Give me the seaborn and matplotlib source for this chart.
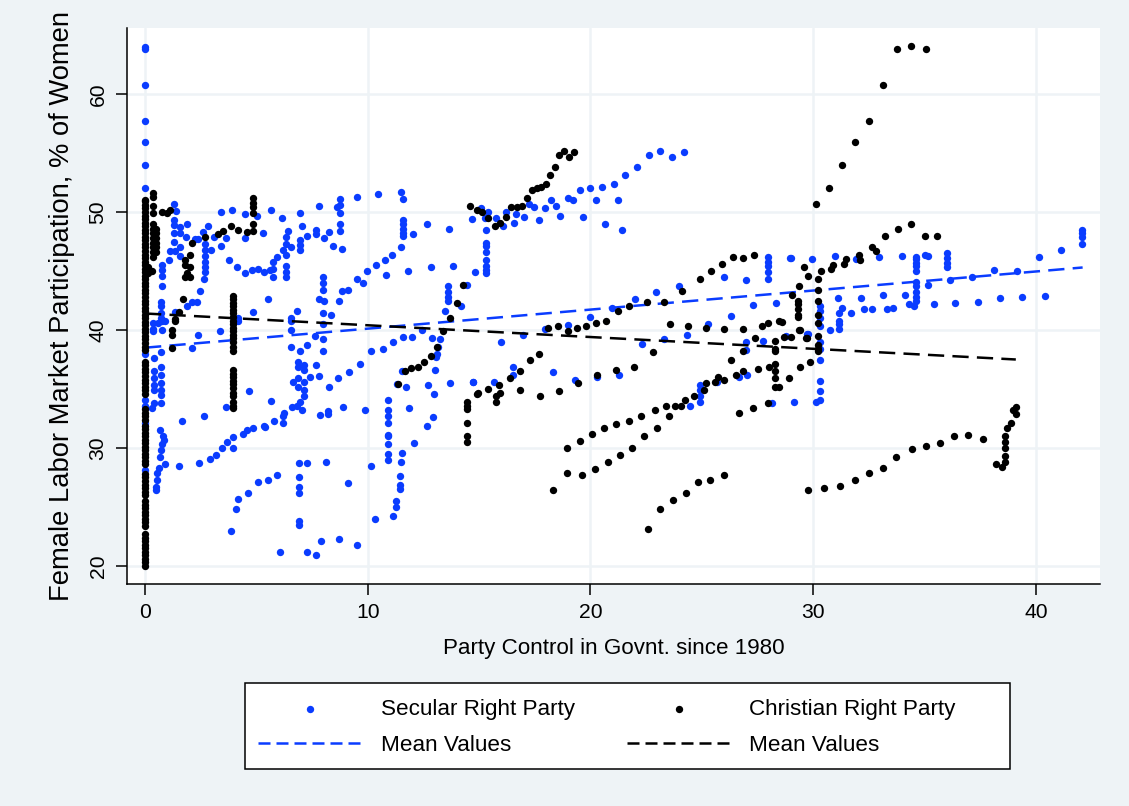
import matplotlib
matplotlib.use('Agg')
import matplotlib.pyplot as plt
from matplotlib.patches import Rectangle
import seaborn as sns
import pandas as pd

# Values as (party control, participation)
secular_zero = [(0, 64.0), (0, 63.8), (0, 60.8), (0, 57.7), (0, 55.9), (0, 54.0), (0, 52.0), (0, 38.0), (0, 34.1),
                (0, 33.6), (0, 32.1), (0, 28.1)]

secular_left = [(1.32, 50.7), (1.39, 50.1), (1.32, 49.3), (1.32, 48.9), (1.32, 48.2), (1.57, 48.7), (1.57, 48.2),
                (1.83, 47.9), (1.32, 47.5), (1.9, 49.0), (2.24, 47.7), (2.39, 47.7), (2.62, 48.3), (2.84, 48.8),
                (3.1, 47.9), (3.4, 50.0), (3.92, 50.2), (4.47, 49.8), (5.03, 49.7), (5.64, 50.2), (6.13, 49.5),
                (6.96, 49.9), (7.8, 50.5), (8.6, 50.4), (8.75, 51.1), (8.75, 50.6), (8.75, 49.9), (8.75, 49.0),
                (8.75, 48.4), (9.5, 51.3), (10.47, 51.5), (11.49, 51.7), (11.6, 51.1), (11.6, 49.3), (11.6, 49.0),
                (11.6, 48.6), (11.6, 48.2), (11.6, 48.0), (12.04, 48.1), (12.66, 49.0), (13.64, 48.6), (14.66, 49.4),
                (3.64, 47.8), (4.47, 47.8), (5.31, 48.2), (6.43, 48.4), (6.31, 47.9), (6.31, 47.3), (7.26, 48.0),
                (7.66, 48.5), (7.66, 48.1), (8.27, 48.3), (8.05, 47.8), (7.03, 48.8), (6.96, 47.6), (6.96, 47.2),
                (6.96, 46.8), (6.57, 47.0), (8.45, 47.1), (8.83, 46.9), (1.12, 46.7), (1.35, 46.7), (1.57, 47.0),
                (1.57, 46.3), (2.69, 47.3), (2.69, 46.8), (2.69, 46.3), (2.69, 45.8), (2.69, 45.3), (2.69, 44.9),
                (2.95, 46.8), (3.43, 47.1), (1.08, 45.9), (0.75, 45.5), (0.75, 45.1), (0.75, 44.6), (0.75, 43.7),
                (2.66, 44.3), (2.47, 43.3), (3.77, 45.9), (4.13, 45.3), (4.47, 44.8), (4.79, 45.1), (5.06, 45.2),
                (5.33, 44.9), (5.61, 45.1), (5.73, 45.8), (5.73, 45.2), (5.73, 44.5), (5.91, 46.2), (6.2, 46.8),
                (6.31, 46.4), (6.31, 45.4), (6.31, 44.9), (6.31, 44.5), (8.0, 44.5), (8.0, 44.0), (8.0, 43.4),
                (7.82, 42.6), (8.03, 42.5), (8.72, 42.5), (8.83, 43.3), (9.11, 43.4), (9.5, 44.3), (9.8, 44.0),
                (9.95, 45.0), (10.38, 45.5), (10.82, 44.7), (10.77, 45.9), (11.1, 46.4), (11.49, 47.0), (11.8, 45.0),
                (12.82, 45.3), (13.84, 45.4), (14.8, 44.9), (13.6, 43.7), (13.6, 43.2), (13.6, 42.8), (13.6, 42.5),
                (14.44, 43.8), (14.2, 42.0), (13.47, 41.6), (0.73, 42.4), (0.73, 42.0), (0.73, 41.4), (0.73, 41.0),
                (1.87, 42.0), (2.1, 42.4), (2.32, 42.4), (1.35, 41.5), (5.54, 42.6), (4.83, 41.5), (6.84, 41.6),
                (8.0, 41.4), (8.33, 41.3), (6.55, 41.0), (4.19, 41.0)]

secular_lower = [(0.37, 40.6), (0.37, 40.1), (0.37, 39.9), (0.6, 40.6), (0.75, 40.8), (0.75, 40.0), (0.9, 40.8),
                 (2.36, 39.6), (3.37, 39.9), (2.09, 38.5), (4.19, 40.8), (6.55, 40.8), (6.55, 40.0), (8.0, 40.5),
                 (7.63, 39.5), (8.0, 39.2), (8.0, 38.2), (6.55, 38.6), (6.96, 38.2), (7.29, 38.7), (6.85, 37.3),
                 (6.85, 36.9), (7.14, 37.0), (7.14, 36.6), (7.14, 35.6), (7.41, 36.0), (7.66, 37.0), (7.81, 36.1),
                 (6.85, 35.9), (6.63, 35.6), (6.85, 35.2), (7.14, 34.9), (7.14, 34.4), (8.24, 35.2), (8.68, 35.9),
                 (9.16, 36.4), (9.65, 37.1), (10.14, 38.2), (10.67, 38.4), (11.15, 39.0), (11.6, 39.4), (12.0, 39.4),
                 (12.45, 40.0), (12.87, 39.3), (13.24, 39.2), (13.17, 38.6), (13.09, 38.0), (13.06, 37.7),
                 (13.03, 36.6), (11.52, 36.5), (11.3, 35.4), (11.71, 35.2), (12.69, 35.3), (12.97, 34.6), (13.7, 35.5),
                 (14.72, 35.6), (0.42, 37.6), (0.42, 36.5), (0.42, 35.9), (0.42, 35.3), (0.42, 34.9), (0.73, 38.1),
                 (0.73, 36.9), (0.73, 36.2), (0.73, 35.5), (0.73, 34.9), (0.73, 34.5), (0.73, 33.8), (0.42, 33.8),
                 (0.3, 33.4), (1.65, 32.3), (2.66, 32.7), (3.64, 33.5), (4.67, 34.8), (5.67, 34.0), (6.58, 33.5),
                 (6.81, 33.6), (7.03, 33.2), (6.96, 33.9), (6.25, 33.0), (6.18, 32.7), (6.21, 32.1), (5.79, 32.3),
                 (5.34, 31.9), (5.39, 31.8), (4.86, 31.7), (4.56, 31.5), (4.38, 31.2), (3.96, 30.9), (3.7, 30.5),
                 (3.44, 30.0), (3.96, 30.0), (3.19, 29.4), (2.92, 29.1), (2.41, 28.7), (1.53, 28.5), (0.91, 28.6),
                 (7.87, 32.8), (8.23, 33.1), (8.23, 32.9), (8.9, 33.5), (9.87, 33.2), (10.92, 34.1), (10.92, 33.2),
                 (10.92, 32.7), (10.92, 32.1), (11.86, 33.4), (12.94, 32.6), (12.64, 31.9), (10.92, 31.1),
                 (10.92, 31.0), (10.92, 30.3), (10.92, 29.5), (10.92, 29.0), (12.07, 30.4), (11.52, 29.6),
                 (11.48, 28.8), (11.45, 27.6), (11.45, 26.9), (11.45, 26.5), (11.27, 25.5), (11.27, 25.0),
                 (11.15, 24.2), (10.32, 24.0), (0.67, 31.5), (0.82, 31.0), (0.85, 30.7), (0.75, 30.3), (0.7, 29.8),
                 (0.67, 29.2), (0.64, 28.3), (0.55, 27.9), (0.55, 27.3), (0.49, 26.7), (0.49, 26.4), (6.9, 28.7),
                 (7.29, 28.7), (8.12, 28.8), (10.13, 28.5), (5.91, 27.7), (5.51, 27.3), (5.09, 27.1), (4.62, 26.2),
                 (4.19, 25.7), (4.1, 24.8), (3.86, 23.0), (6.9, 27.5), (6.9, 26.7), (6.9, 26.2), (9.13, 27.0),
                 (6.9, 23.8), (6.9, 23.5), (7.9, 22.1), (8.71, 22.3), (9.53, 21.8), (6.06, 21.2), (7.29, 21.2),
                 (7.69, 20.9)]

secular_mid = [(15.29, 48.5), (15.29, 47.4), (15.29, 47.1), (15.29, 46.6), (15.29, 45.9), (15.29, 45.4), (15.29, 45.1),
               (15.29, 44.8), (15.26, 49.5), (15.41, 50.0), (15.1, 50.3), (15.75, 49.5), (16.08, 48.8), (16.23, 50.0),
               (16.65, 49.8), (16.55, 49.1), (17.03, 49.6), (17.24, 50.7), (17.48, 50.4), (17.67, 49.3), (17.97, 50.3),
               (18.21, 51.0), (18.46, 50.5), (18.64, 49.7), (18.97, 51.2), (19.23, 51.0), (19.51, 51.9), (19.66, 49.6),
               (19.99, 52.0), (20.23, 51.0), (20.51, 52.1), (20.66, 49.0), (21.04, 52.4), (21.23, 51.0), (21.41, 48.5),
               (21.56, 53.1), (22.09, 53.8), (22.64, 54.8), (23.14, 55.2), (23.67, 54.7), (24.22, 55.1), (15.98, 39.0),
               (16.98, 39.6), (17.95, 40.1), (18.97, 40.4), (19.97, 41.1), (20.99, 41.9), (21.99, 42.6), (22.96, 43.2),
               (23.98, 43.7), (25.99, 44.5), (26.98, 44.2), (27.98, 46.2), (27.98, 45.8), (27.98, 45.4), (27.98, 44.9),
               (27.98, 44.3), (28.98, 46.1), (27.3, 42.1), (28.31, 42.3), (26.32, 41.2), (25.3, 40.5), (24.33, 39.6),
               (23.31, 39.2), (22.32, 38.8), (27.75, 39.1), (27.0, 39.0), (27.0, 38.3), (28.8, 39.5), (29.73, 39.7),
               (14.72, 35.6), (15.68, 35.6), (16.53, 36.9), (16.53, 36.2), (18.31, 36.4), (19.31, 35.8), (20.29, 36.0),
               (21.3, 36.2), (24.9, 35.3), (24.9, 34.9), (24.9, 34.4), (24.9, 33.9), (24.46, 33.6), (25.66, 35.6),
               (26.65, 36.0), (27.02, 36.2), (28.16, 33.8), (29.13, 33.9)]

secular_right = [(29.0, 46.1), (29.95, 46.0), (30.97, 46.3), (31.91, 46.0), (32.96, 46.2), (33.98, 46.3), (34.6, 46.2),
                 (34.6, 46.0), (34.6, 45.7), (34.6, 45.4), (34.6, 45.0), (35.03, 46.4), (35.14, 46.3), (36.0, 46.5),
                 (36.0, 46.1), (36.0, 45.7), (36.0, 45.3), (40.13, 46.2), (41.13, 46.8), (42.06, 48.5), (42.06, 48.2),
                 (42.06, 47.9), (42.06, 47.3), (38.12, 45.1), (39.14, 45.0), (37.15, 44.5), (36.13, 44.2), (35.16, 43.8),
                 (34.6, 44.1), (34.6, 43.7), (34.6, 43.2), (34.6, 42.8), (34.6, 42.5), (40.4, 42.9), (39.39, 42.8),
                 (38.39, 42.7), (37.39, 42.4), (36.39, 42.3), (35.41, 42.2), (34.52, 42.0), (34.29, 42.2), (34.14, 43.0),
                 (33.12, 43.0), (32.14, 42.7), (31.13, 42.7), (33.59, 41.9), (33.31, 41.8), (32.66, 41.8), (32.3, 41.8),
                 (31.7, 41.4), (31.31, 41.9), (31.17, 41.4), (31.17, 40.8), (31.17, 40.5), (31.17, 40.1), (30.76, 40.0),
                 (30.31, 42.0), (30.31, 41.6), (30.31, 41.0), (30.31, 40.3), (29.76, 39.7), (30.31, 39.0), (30.31, 38.4),
                 (30.31, 37.5), (30.31, 35.7), (30.31, 34.8), (30.31, 34.1), (30.15, 33.9)]

christian_zero_y = [20.0, 20.3, 20.6, 20.9, 21.2, 21.5, 21.8, 22.1, 22.4, 22.7, 23.4, 23.7, 24.0, 24.3, 24.6, 24.9,
                    25.2, 25.5, 26.0, 26.3, 26.6, 26.9, 27.2, 27.5, 27.8, 28.6, 28.9, 29.2, 29.5, 29.8, 30.1, 30.4,
                    30.7, 31.0, 31.3, 31.6, 31.9, 32.4, 32.7, 33.0, 33.3, 34.6, 34.9, 35.2, 35.5, 35.8, 36.1, 36.4,
                    36.7, 37.0, 37.3, 38.3, 38.6, 38.9, 39.2, 39.5, 39.8, 40.1, 40.4, 40.7, 41.0, 41.3, 41.6, 41.9,
                    42.2, 42.5, 42.8, 43.1, 43.4, 43.7, 44.0, 44.3, 44.6, 44.9, 45.2, 45.5, 45.8, 46.1, 46.4, 46.7,
                    47.0, 47.3, 47.6, 47.9, 48.2, 48.5, 48.8, 49.1, 49.4, 49.7, 50.0, 50.3, 50.6, 50.9, 51.0]

christian_left = [(0.37, 51.6), (0.37, 51.3), (0.37, 50.5), (0.37, 49.9), (0.37, 49.0), (0.37, 48.6), (0.37, 48.2),
                  (0.37, 47.8), (0.37, 47.4), (0.37, 47.0), (0.37, 46.6), (0.37, 46.2), (0.5, 48.6), (0.5, 48.2),
                  (0.5, 47.8), (0.5, 47.4), (0.5, 47.0), (0.5, 46.6), (0.75, 50.0), (0.97, 49.9), (1.12, 50.2),
                  (0.3, 45.0), (0.15, 45.3), (0.15, 44.8), (4.86, 51.2), (4.86, 50.8), (4.86, 50.4), (4.86, 49.9),
                  (4.86, 49.0), (4.86, 48.4), (3.86, 48.8), (4.19, 48.5), (4.56, 48.3), (3.49, 48.4), (3.29, 48.1),
                  (2.69, 47.9), (2.11, 47.4), (2.0, 46.4), (1.8, 45.9), (1.8, 45.5), (2.02, 45.3), (1.8, 44.5),
                  (2.02, 44.5), (1.87, 44.8), (1.72, 42.6), (1.53, 41.5), (1.35, 40.9), (1.35, 40.8), (1.21, 40.0),
                  (1.21, 39.6), (1.21, 38.5)]

christian_four = [(3.93, 42.9), (3.93, 42.6), (3.93, 42.3), (3.93, 42.0), (3.93, 41.7), (3.93, 41.4), (3.93, 41.1),
                  (3.93, 40.8), (3.93, 40.5), (3.93, 40.2), (3.93, 39.9), (3.93, 39.6), (3.93, 39.3), (3.93, 39.0),
                  (3.93, 38.6), (3.93, 38.2), (3.93, 36.6), (3.93, 36.3), (3.93, 36.0), (3.93, 35.7), (3.93, 35.4),
                  (3.93, 35.1), (3.93, 34.7), (3.93, 34.4), (3.93, 33.9), (3.93, 33.6), (3.93, 33.4)]

christian_mid = [(14.29, 43.8), (13.99, 42.3), (13.69, 41.0), (13.39, 39.9), (13.09, 38.6), (12.82, 37.8), (12.52, 37.3),
                 (12.24, 36.9), (11.94, 36.8), (11.67, 36.5), (11.37, 35.4), (14.47, 33.9), (14.47, 33.6), (14.47, 33.3),
                 (14.47, 32.1), (14.47, 31.0), (14.47, 30.5), (14.92, 34.6), (14.59, 50.5), (14.89, 50.2), (15.14, 50.0),
                 (15.41, 49.5), (15.71, 48.8), (15.96, 49.1), (16.19, 49.6), (16.43, 50.4), (16.69, 50.4), (16.91, 50.5),
                 (17.13, 51.2), (17.36, 51.9), (17.58, 52.0), (17.8, 52.1), (18.0, 52.4), (18.18, 53.1), (18.4, 53.8),
                 (18.6, 54.8), (18.82, 55.2), (19.05, 54.7), (19.26, 55.1), (18.1, 40.2), (18.55, 40.3), (18.97, 39.9),
                 (19.4, 40.2), (19.81, 40.3), (20.23, 40.6), (20.72, 40.8), (21.25, 41.6), (21.75, 42.0), (22.52, 42.4),
                 (23.31, 42.4), (24.13, 43.3), (24.94, 44.3), (25.43, 45.0), (25.91, 45.6), (26.41, 46.2), (26.86, 46.1),
                 (27.35, 46.4), (23.58, 40.5), (24.4, 40.3), (25.21, 40.2), (26.0, 40.1), (26.86, 40.1), (27.72, 40.3),
                 (27.95, 40.6), (28.47, 40.8), (28.58, 40.7), (14.93, 34.7), (15.41, 35.0), (15.75, 34.4), (15.96, 34.7),
                 (15.9, 35.3), (15.75, 33.9), (16.41, 35.9), (16.83, 36.5), (17.27, 37.5), (17.7, 38.0), (16.83, 34.9),
                 (17.72, 34.4), (18.59, 34.8), (19.46, 35.5), (20.29, 36.2), (21.13, 36.6), (21.95, 36.9), (22.79, 38.1)]

christian_lower = [(26.29, 37.5), (26.86, 38.2), (27.38, 39.3), (28.28, 39.1), (28.28, 38.4), (28.28, 38.2), (28.68, 39.4),
                   (29.01, 39.4), (29.4, 40.0), (29.7, 39.3), (18.96, 30.0), (19.54, 30.6), (20.08, 31.2), (20.6, 31.7),
                   (21.16, 32.0), (21.71, 32.3), (22.29, 32.7), (22.92, 33.2), (23.4, 33.6), (23.8, 33.6), (24.07, 33.6),
                   (24.24, 34.1), (24.63, 34.4), (25.09, 34.9), (25.18, 35.5), (25.59, 35.6), (25.73, 36.0), (26.0, 35.8),
                   (26.53, 36.2), (26.87, 36.5), (27.54, 36.7), (28.02, 36.9), (28.28, 37.1), (28.28, 36.5), (28.28, 35.9),
                   (28.28, 35.2), (28.47, 35.2), (28.92, 35.9), (29.41, 36.9), (29.85, 37.3), (29.32, 42.5), (29.32, 42.2),
                   (29.32, 41.8), (29.32, 41.3), (29.32, 41.1), (29.04, 43.0), (29.35, 43.7), (29.59, 45.3), (29.77, 44.6),
                   (18.94, 27.9), (19.6, 27.7), (20.2, 28.2), (20.8, 28.8), (21.33, 29.4), (21.87, 30.0), (18.33, 26.4),
                   (22.41, 31.0), (22.98, 31.7), (23.51, 32.7), (22.58, 23.1), (23.13, 24.8), (23.71, 25.6), (24.3, 26.2),
                   (24.84, 27.1), (25.39, 27.3), (26.0, 27.7), (26.65, 33.0), (27.32, 33.4), (27.98, 33.8)]

christian_right = [(30.15, 50.7), (30.73, 52.0), (31.28, 54.0), (31.87, 55.9), (32.51, 57.7), (33.12, 60.8), (33.77, 63.8),
                   (34.38, 64.1), (35.05, 63.8), (34.41, 49.0), (33.83, 48.6), (33.23, 48.0), (35.0, 48.0), (35.58, 48.0),
                   (32.64, 47.0), (32.84, 46.7), (32.05, 46.4), (32.09, 45.9), (31.49, 46.0), (31.39, 45.6), (30.89, 45.5),
                   (30.82, 45.2), (30.37, 45.0), (30.21, 44.3), (30.21, 43.4), (30.21, 42.5), (30.21, 41.3), (30.21, 40.6),
                   (29.38, 40.0), (29.71, 39.3), (30.21, 39.5), (30.21, 38.7), (30.21, 38.4), (30.21, 38.2), (29.77, 26.4),
                   (30.48, 26.6), (31.2, 26.8), (31.9, 27.3), (32.51, 27.9), (33.12, 28.3), (33.74, 29.2), (34.44, 29.9),
                   (35.06, 30.2), (35.71, 30.4), (36.31, 31.0), (36.95, 31.1), (37.61, 30.8), (38.23, 28.6), (38.5, 28.4),
                   (38.6, 28.8), (38.6, 29.3), (38.6, 30.0), (38.6, 30.5), (38.6, 31.0), (38.7, 31.7), (38.9, 32.1),
                   (38.97, 33.2), (39.1, 32.9), (39.12, 33.5)]

# Mean lines, end points only
secular_mean_x = [0, 42.1]
secular_mean_y = [38.5, 45.3]
christian_mean_x = [0, 39.1]
christian_mean_y = [41.4, 37.5]

x_ticks = [0, 10, 20, 30, 40]
y_ticks = [20, 30, 40, 50, 60]

BG = '#eef3f6'
BLUE = '#0a3cff'

secular = pd.DataFrame(secular_zero + secular_left + secular_lower + secular_mid + secular_right,
                       columns=['control', 'female'])
christian = pd.DataFrame([(0, y) for y in christian_zero_y] + christian_left + christian_four
                         + christian_mid + christian_lower + christian_right,
                         columns=['control', 'female'])

sns.set_style('white')
plt.rcParams['font.family'] = ['Liberation Sans', 'DejaVu Sans']
plt.rcParams['text.color'] = 'black'
plt.rcParams['axes.labelcolor'] = 'black'
plt.rcParams['xtick.labelcolor'] = 'black'
plt.rcParams['ytick.labelcolor'] = 'black'

fig = plt.figure(figsize=(11.29, 8.06), dpi=100, facecolor=BG)
ax = fig.add_axes([127 / 1129, (806 - 584) / 806, (1100 - 127) / 1129, (584 - 28) / 806])

ax.grid(True, color=BG, linewidth=1.8)
ax.set_axisbelow(True)

sns.scatterplot(data=secular, x='control', y='female', color=BLUE, s=28, linewidth=0, ax=ax,
                label='Secular Right Party', zorder=3)
sns.lineplot(x=secular_mean_x, y=secular_mean_y, color=BLUE, linewidth=1.8, linestyle=(0, (6.5, 3.3)), ax=ax,
             label='Mean Values', zorder=4)
sns.scatterplot(data=christian, x='control', y='female', color='black', s=28, linewidth=0, ax=ax,
                label='Christian Right Party', zorder=5)
sns.lineplot(x=christian_mean_x, y=christian_mean_y, color='black', linewidth=1.8, linestyle=(0, (6.5, 3.3)), ax=ax,
             label='Mean Values', zorder=6)

ax.set_xlim(-0.81, 42.88)
ax.set_ylim(18.47, 65.6)
ax.set_xticks(x_ticks)
ax.set_yticks(y_ticks)
ax.tick_params(axis='both', length=8, width=1.1, color='black', labelsize=15.2, bottom=True, left=True, pad=6)
plt.setp(ax.get_yticklabels(), rotation=90, va='center')

sns.despine(ax=ax)
ax.spines['left'].set_color('black')
ax.spines['bottom'].set_color('black')
ax.spines['left'].set_linewidth(1.1)
ax.spines['bottom'].set_linewidth(1.1)

ax.set_xlabel('Party Control in Govnt. since 1980', fontsize=16.1, labelpad=11)
ax.set_ylabel('Female Labor Market Participation, % of Women', fontsize=19.7, labelpad=10)

# Legend frame is wider than its content on the right, so it is drawn apart
fig.add_artist(Rectangle((245 / 1129, (806 - 769) / 806), 765 / 1129, 86 / 806, transform=fig.transFigure,
                         facecolor='white', edgecolor='black', linewidth=1.1))

handles, labels = ax.get_legend_handles_labels()
ax.get_legend().remove()
leg = fig.legend(handles, labels, ncol=2, loc='center left',
                 bbox_to_anchor=(258 / 1129, (806 - 727.5) / 806),
                 borderaxespad=0, borderpad=0, fontsize=16.2, frameon=False, handlelength=4.62, handletextpad=0.84,
                 labelspacing=0.66, columnspacing=2.3, markerscale=1.0)
for line in leg.get_lines():
    line.set_linestyle((0, (4.8, 2.4)))

plt.savefig('out.png', dpi=100, facecolor=BG)
plt.close()
